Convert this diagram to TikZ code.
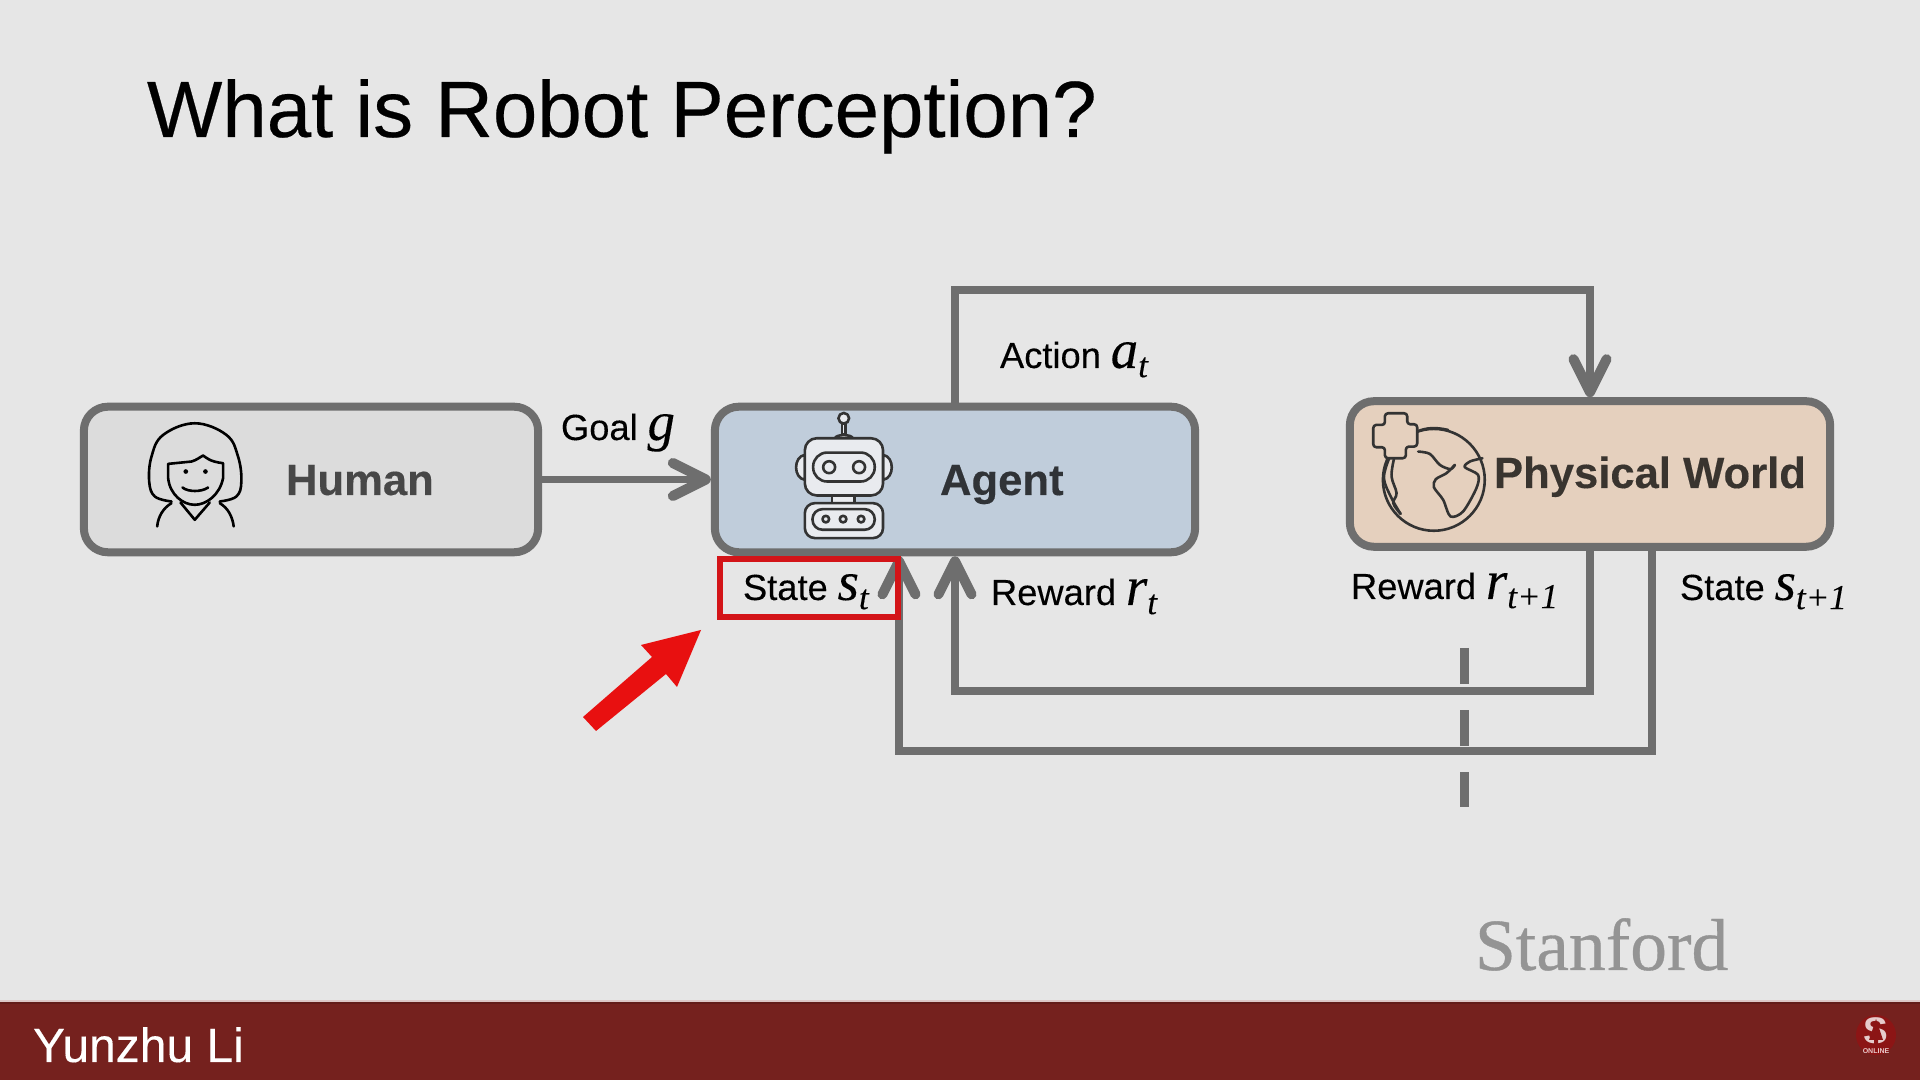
\documentclass[tikz,border=0pt]{standalone}
\usepackage{fontspec}
\setmainfont{Liberation Sans}
\newfontfamily\serifit[ItalicFont={Liberation Serif Italic}]{Liberation Serif}
\newfontfamily\titlefont[FakeBold=0.3]{Liberation Sans}
\newfontfamily\wordfont[FakeBold=0.2]{Liberation Sans}
\newfontfamily\heavyfont[FakeBold=0.3]{Liberation Sans Bold}
\newfontfamily\stanfordfont[FakeBold=0.5]{Liberation Serif}
\newfontfamily\mathitfont[FakeBold=0.15]{Liberation Serif Italic}
\usetikzlibrary{arrows.meta}
\definecolor{slidebg}{HTML}{E6E6E6}
\definecolor{linegray}{HTML}{6E6E6E}
\definecolor{humanfill}{HTML}{DCDCDC}
\definecolor{agentfill}{HTML}{C0CDDB}
\definecolor{worldfill}{HTML}{E5D0BE}
\definecolor{barred}{HTML}{75211E}
\definecolor{logored}{HTML}{8C1515}
\definecolor{boxred}{HTML}{D31418}
\definecolor{arrowred}{HTML}{E81010}
\definecolor{robotfill}{HTML}{E9EBEF}
% font size given in reference pixels (1px = 0.2845pt)
\newcommand{\pxfont}[1]{\fontsize{\dimexpr#1\dimexpr0.2845pt\relax\relax}{\dimexpr#1\dimexpr0.2845pt\relax\relax}\selectfont}
\newcommand{\word}[1]{{\wordfont\pxfont{36.3}#1}}
\newcommand{\varit}[1]{{\mathitfont\pxfont{55}#1}}
\newcommand{\subit}[1]{\raisebox{-2.6pt}{\mathitfont\pxfont{35}#1}}
\tikzset{
  x=0.01cm,y=-0.01cm,
  blockbox/.style={draw=linegray,line width=0.08cm,rounded corners=0.24cm,minimum width=4.8cm,minimum height=1.455cm,inner sep=0pt},
  conn/.style={draw=linegray,line width=0.075cm,miter limit=10},
  headed/.style={conn,-{Straight Barb[length=0.33cm,width=0.33cm,line width=0.10cm,round]}},
  tag/.style={anchor=base west,inner sep=0pt,outer sep=0pt,text=black},
  boxname/.style={anchor=base west,inner sep=0pt,outer sep=0pt,font=\heavyfont\pxfont{43.6}},
  icon/.style={draw=#1,line width=0.026cm,line cap=round,line join=round},
}
\begin{document}
\begin{tikzpicture}
\useasboundingbox (0,0) rectangle (1920,1080);
\fill[slidebg] (0,0) rectangle (1920,1080);
% footer
\fill[barred] (0,1002) rectangle (1920,1080);
\fill[barred!85!black] (0,1002) rectangle (1920,1004);
\fill[barred!25!white] (0,1000) rectangle (1920,1002);
\node[tag,text=white,font=\wordfont\pxfont{48}] (speaker) at (33,1062) {Yunzhu Li};
\node[tag,text=black,font=\titlefont\pxfont{79.8}] (title) at (147,137) {What is Robot Perception?};
\node[tag,text=black!42,font=\stanfordfont\pxfont{73.5}] (stanford) at (1475,970) {Stanford};
% blocks
\node[blockbox,fill=humanfill,minimum width=4.54cm] (human) at (311,479.5) {};
\node[blockbox,fill=agentfill] (agent) at (955,479.5) {};
\node[blockbox,fill=worldfill] (world) at (1590,474) {};
\node[boxname,text=black!72] (humanname) at (286,495) {Human};
\node[boxname,text=agentfill!25!black] (agentname) at (940,495) {Agent};
\node[boxname,text=worldfill!25!black] (worldname) at (1494,488) {Physical World};
% dashed separator
\coordinate (sepa) at (1464,648);
\coordinate (sepb) at (1464,807);
\draw[linegray,line width=0.09cm,dash pattern=on 0.355cm off 0.265cm] (sepa) -- (sepb);
% connectors
\coordinate (acttop) at (1590,290);
\coordinate (rewlow) at (1300,691);
\coordinate (statelow) at (1300,751);
\draw[headed] (human.east) -- (agent.west);
\draw[headed] (agent.north) |- (acttop) -- (world.north);
\draw[headed] (world.south) |- (rewlow) -| (agent.south);
\draw[headed] ([xshift=0.62cm]world.south) |- (statelow) -| ([xshift=-0.56cm]agent.south);
% labels
\node[tag] (goallabel) at (561,440) {\word{Goal} \varit{g}};
\node[tag] (actionlabel) at (1000,368) {\word{Action} \varit{a}\subit{t}};
\node[tag] (statelabel) at (743,600) {\word{State} \varit{s}\subit{t}};
\node[tag] (rewardlabel) at (991,605) {\word{Reward} \varit{r}\subit{t}};
\node[tag] (rewardnext) at (1351,599) {\word{Reward} \varit{r}\subit{t+1}};
\node[tag] (statenext) at (1680,600) {\word{State} \varit{s}\subit{t+1}};
% red highlight
\draw[boxred,line width=0.06cm] (720,559) rectangle (898,617);
\fill[arrowred] (583,717) -- (596,731) -- (666,674) -- (677,687) -- (701,630) -- (641,645) -- (652,657) -- cycle;
% human icon
\begin{scope}[shift={(60,390)},x=0.003333cm,y=-0.003333cm]
\draw[icon=black] plot[smooth,tension=0.65] coordinates {(335,335) (285,320) (268,275) (275,200) (310,135) (405,100) (500,135) (535,200) (545,275) (530,320) (480,335)};
\draw[icon=black] (325,222) -- (395,215) .. controls (412,210) and (420,202) .. (430,197) .. controls (442,205) and (450,215) .. (490,220) -- (490,265) .. controls (480,315) and (440,345) .. (405,345) .. controls (370,345) and (330,315) .. (325,265) -- cycle;
\fill[black] (378,245) circle (7);
\fill[black] (437,245) circle (7);
\draw[icon=black] (368,293) .. controls (385,307) and (425,307) .. (445,293);
\draw[icon=black] (362,338) -- (405,390) -- (450,338);
\draw[icon=black] (335,340) .. controls (310,355) and (295,380) .. (292,410);
\draw[icon=black] (480,340) .. controls (505,355) and (518,380) .. (522,410);
\end{scope}
% robot icon
\begin{scope}[shift={(700,390)},x=0.003333cm,y=-0.003333cm]
\draw[icon=black!80,fill=robotfill] (315,195) .. controls (280,200) and (280,265) .. (315,270) -- cycle;
\draw[icon=black!80,fill=robotfill] (550,195) .. controls (585,200) and (585,265) .. (550,270) -- cycle;
\draw[icon=black!80,fill=robotfill] (397,315) rectangle (465,342);
\draw[icon=black!80,fill=robotfill] (405,146) .. controls (408,132) and (456,132) .. (460,146) -- cycle;
\draw[icon=black!80,fill=robotfill] (427,100) rectangle (437,132);
\draw[icon=black!80,fill=robotfill] (432,85) circle (16);
\draw[icon=black!80,fill=robotfill,rounded corners=0.12cm] (315,145) rectangle (550,317);
\draw[icon=black!80,rounded corners=0.14cm] (340,188) rectangle (525,275);
\draw[icon=black!80] (388,232) circle (18);
\draw[icon=black!80] (478,232) circle (18);
\draw[icon=black!80,fill=robotfill,rounded corners=0.10cm] (315,340) rectangle (550,445);
\draw[icon=black!80,rounded corners=0.10cm] (338,358) rectangle (525,420);
\draw[icon=black!80] (378,388) circle (10);
\draw[icon=black!80] (430,388) circle (10);
\draw[icon=black!80] (484,388) circle (10);
\end{scope}
% globe icon
\begin{scope}[shift={(1330,390)},x=0.003333cm,y=-0.003333cm]
\draw[icon=black!80] (312,270) circle (153);
\draw[icon=black!80] plot[smooth,tension=0.5] coordinates {(265,185) (300,192) (330,225) (362,238) (375,225) (350,250) (318,268) (312,292) (340,330) (362,380) (400,365) (440,295) (445,255) (405,232) (420,215) (458,205)};
\draw[icon=black!80] plot[smooth,tension=0.6] coordinates {(178,205) (162,265) (185,325) (212,372)};
\draw[icon=black!80] plot[smooth,tension=0.6] coordinates {(192,208) (185,260) (200,310) (190,340) (212,372)};
\draw[icon=black!80] (262,125) .. controls (290,112) and (320,112) .. (355,120);
\draw[icon=black!80,fill=worldfill,rounded corners=0.03cm] (165,70) -- (232,70) -- (232,103) -- (262,103) -- (262,170) -- (228,170) -- (228,205) -- (165,205) -- (165,172) -- (130,172) -- (130,105) -- (165,105) -- cycle;
\end{scope}
% university seal
\fill[logored] (1876,1035) circle (20);
\node[inner sep=0pt,text=logored!22!white,font=\bfseries\pxfont{37}] (sealS) at (1876,1031) {S};
\fill[logored] (1876,1019) -- (1883,1040) -- (1878,1040) -- (1878,1045) -- (1874,1045) -- (1874,1040) -- (1869,1040) -- cycle;
\node[inner sep=0pt,text=logored!22!white,font=\bfseries\pxfont{7}] (sealtext) at (1876,1051) {ONLINE};
\end{tikzpicture}
\end{document}
